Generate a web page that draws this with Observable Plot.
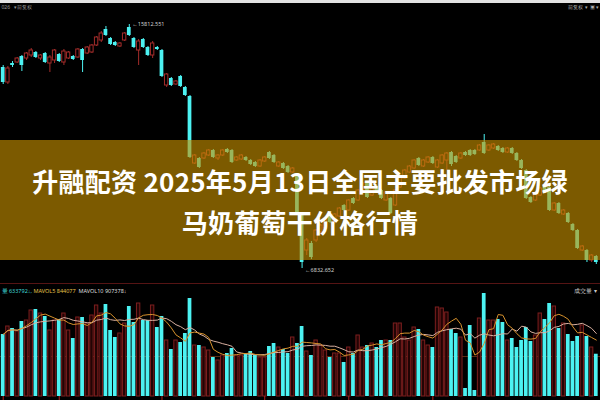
<!DOCTYPE html>
<html><head><meta charset="utf-8">
<script src="https://cdn.jsdelivr.net/npm/d3@7"></script>
<script src="https://cdn.jsdelivr.net/npm/@observablehq/plot@0.6"></script>
<style>
html,body{margin:0;padding:0;background:#000;}
#wrap{position:relative;width:600px;height:400px;overflow:hidden;background:#000;font-family:"Noto Sans CJK SC","Noto Sans",sans-serif;}
#price{position:absolute;left:0;top:0;}
#vol{position:absolute;left:0;top:282px;}
#topbar{position:absolute;left:0;top:0;width:600px;height:3px;background:#e2e2e2;}
#banner{position:absolute;left:0;top:140px;width:600px;height:120px;background:rgba(200,145,0,0.62);}
#title{position:absolute;left:0;top:160px;width:600px;text-align:center;color:#fff;font-weight:700;font-size:26px;line-height:41px;letter-spacing:0.25px;}
</style></head>
<body><div id="wrap"><div id="price"></div><div id="vol"></div><div id="topbar"></div><div id="banner"></div><div id="title"></div></div>
<script>
// ---- data (price in chart units, volume in thousands) ----
const open = [233,218,237,238,244,242,245,248,242,247, 237,240,246,238,242,244,243,251,247,248,
  255,260,271,262,258,254,260,273,262,250, 261,253,245,253,250,215,222,216,224,213,
  204,137,142,142,145,150,142,145,151,150, 140,141,143,140,138,134,139,148,145,134,
  137,134,128,125,87,50,57,60,68,72, 85,78,84,95,90,102,100,108,117,105,
  114,110,100,102,95,113,122,128,132,142, 134,138,143,133,137,140,148,144,142,148,
  150,150,150,158,150,152,154,152,148,152, 147,140,130,103,100,105,115,113,90,97,
  86,87,76,70,50,50,40,44];
const close = [218,232,235,242,235,247,250,243,245,238, 243,250,239,249,248,241,251,240,253,255,
  263,267,265,256,255,257,267,265,253,259, 253,245,257,251,224,226,215,219,214,205,
  143,145,133,147,150,143,145,150,148,138, 143,145,140,136,134,140,143,142,138,138,
  132,128,132,87,38,60,43,70,75,82, 78,86,92,90,100,97,110,117,103,112,
  108,102,108,87,110,123,130,134,140,135, 140,143,137,140,145,147,136,138,147,145,
  145,146,155,147,155,156,150,148,152,147, 140,132,102,98,107,112,108,90,97,87,
  90,78,70,52,54,40,45,38];
const high = [235,234,239,243,245,248,252,249,246,248, 245,251,247,251,249,245,252,252,254,256,
  264,269,274,263,259,258,268,276,263,261, 262,254,259,254,251,227,223,220,225,214,
  205,146,143,148,151,151,146,151,152,151, 144,146,144,141,139,141,144,149,146,139,
  138,135,133,126,88,62,59,71,76,83, 86,87,93,96,101,103,111,118,118,113,
  115,111,109,103,111,124,131,135,141,143, 141,144,144,141,146,148,149,145,148,149,
  151,151,156,166,156,157,155,153,153,153, 148,141,131,104,108,113,116,114,98,98,
  91,88,77,71,55,51,46,45];
const low = [216,216,233,237,229,240,243,242,240,237, 228,237,238,235,241,240,242,228,246,247,
  254,258,264,255,254,253,259,264,252,235, 252,244,242,250,223,213,214,215,213,204,
  142,136,132,141,144,142,140,144,147,137, 139,140,139,135,133,133,138,141,137,133,
  131,127,127,86,32,45,41,58,66,71, 77,76,83,89,89,96,99,107,102,104,
  107,101,99,86,94,112,121,127,131,134, 133,137,136,132,136,130,134,137,141,144,
  144,145,149,146,149,151,149,147,147,146, 139,131,101,97,99,104,107,89,89,86,
  85,77,69,51,49,38,38,36];
const vol = [930,1050,1020,975,1125,1140,1290,1305,1245,1200, 990,1140,1155,1245,990,870,1185,1185,1095,1215,
  1365,1245,1380,990,885,945,1095,1350,1110,1395, 1140,1140,1365,1035,1200,840,705,840,810,945,
  1470,765,765,735,690,585,540,615,645,720, 615,615,630,675,615,585,585,750,795,735,
  705,645,885,795,1050,675,615,840,765,690, 585,645,645,510,735,645,915,735,765,795,
  735,840,840,840,1095,1095,885,840,1035,1005, 840,765,735,1335,1320,1260,1005,945,885,120,
  1065,90,1170,1545,1140,1140,1155,1110,840,870, 735,840,1035,825,915,1245,1155,1395,1350,1020,
  1095,930,825,900,1065,900,735,634];
const monthStarts = [0,12,34,56,74,92];
const extremeLabels = ["15812.551","6832.652"];
const volLegendText = ["量 633792↓,", "MAVOL5 844077", "MAVOL10 907378↓"];
const volLegendColor = ["#3fd6d6", "#e2c04a", "#dddddd"];
const titleLines = ["升融配资 2025年5月13日全国主要批发市场绿","马奶葡萄干价格行情"];

const CYAN = "#4cf2f2", RED = "#a42c2a";
const candles = open.map((o,i)=>({i, open:o, close:close[i], high:high[i], low:low[i], vol:vol[i], up: close[i] >= o}));
const ups = candles.filter(d=>d.up), downs = candles.filter(d=>!d.up);
const hi = candles[d3.maxIndex(candles, d=>d.high)];
const lo = candles[d3.minIndex(candles, d=>d.low)];
const xs = {domain:[-0.578,127.9], axis:null};

const price = Plot.plot({
  width:600, height:282, margin:0,
  x: xs,
  y: {domain:[0,300], range:[300,0], axis:null},
  style:{background:"transparent"},
  marks:[
    Plot.ruleX(candles, {x:"i", y1:"low", y2:"high", stroke:d=>d.up?RED:CYAN, strokeWidth:1}),
    Plot.rect(downs, {x1:d=>d.i-0.4, x2:d=>d.i+0.4, y1:"open", y2:"close", fill:CYAN}),
    Plot.rect(ups, {x1:d=>d.i-0.36, x2:d=>d.i+0.36, y1:"open", y2:"close", fill:"#000", stroke:RED, strokeWidth:1}),
    Plot.text([hi], {x:"i", y:"high", text:()=>"←"+extremeLabels[0], textAnchor:"start", dx:3, fontSize:5.5, fill:"#cfcfcf"}),
    Plot.text([lo], {x:"i", y:"low", text:()=>"←"+extremeLabels[1], textAnchor:"start", dx:3, dy:2, fontSize:5.5, fill:"#cfcfcf"}),
    Plot.text(["026   ▾前复权"], {frameAnchor:"top-left", lineAnchor:"middle", dx:1, dy:7, fontSize:5, fill:"#9a9a9a"}),
    Plot.text(["前复权 ▾  ▣ ▾"], {frameAnchor:"top-right", lineAnchor:"middle", dx:-1, dy:7, fontSize:5, fill:"#b0b0b0"})
  ]
});
document.getElementById("price").appendChild(price);

const legendDx = [1, 33, 78];
const volume = Plot.plot({
  width:600, height:118, margin:0,
  x: xs,
  y: {domain:[0,1710], range:[114,0], axis:null},
  style:{background:"transparent"},
  marks:[
    Plot.ruleY([1695], {stroke:"#551414"}),
    Plot.ruleY([600], {stroke:"#5a2c14"}),
    Plot.rect(ups, {x1:d=>d.i-0.36, x2:d=>d.i+0.36, y1:0, y2:"vol", fill:"#220404", stroke:"#7c1e1e", strokeWidth:1}),
    Plot.rect(downs, {x1:d=>d.i-0.4, x2:d=>d.i+0.4, y1:0, y2:"vol", fill:CYAN}),
    Plot.lineY(candles, Plot.windowY({k:10, anchor:"end", reduce:"mean"}, {x:"i", y:"vol", stroke:"#d9b0a0", strokeWidth:1})),
    Plot.lineY(candles, Plot.windowY({k:5, anchor:"end", reduce:"mean"}, {x:"i", y:"vol", stroke:"#d8922c", strokeWidth:1})),
    Plot.ruleX(monthStarts, {x:d=>d, y1:0, y2:-60, stroke:"#b02020"}),
    ...volLegendText.map((t,k)=>Plot.text([t], {frameAnchor:"top-left", lineAnchor:"middle", textAnchor:"start", dx:legendDx[k], dy:9, fontSize:5.5, fill:volLegendColor[k]})),
    Plot.text(["成交量  ▾"], {frameAnchor:"top-right", lineAnchor:"middle", dx:-3, dy:9, fontSize:5.5, fill:"#c8c8c8"})
  ]
});
document.getElementById("vol").appendChild(volume);
document.getElementById("title").innerHTML = titleLines.join("<br>");
</script>
</body></html>
